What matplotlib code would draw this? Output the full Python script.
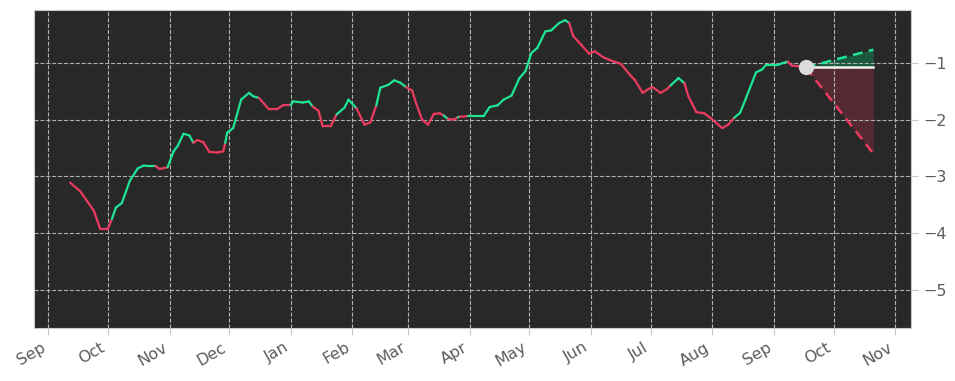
import numpy as np
import pandas as pd
import matplotlib
matplotlib.use("Agg")
import matplotlib.pyplot as plt
import matplotlib.dates as mdates

# historical series
dates = [
    "2022-09-12", "2022-09-17", "2022-09-24", "2022-09-27", "2022-10-01", "2022-10-03",
    "2022-10-05", "2022-10-08", "2022-10-12", "2022-10-16", "2022-10-19", "2022-10-22",
    "2022-10-25", "2022-10-27", "2022-10-31", "2022-11-03", "2022-11-05", "2022-11-08",
    "2022-11-11", "2022-11-13", "2022-11-15", "2022-11-18", "2022-11-21", "2022-11-25",
    "2022-11-28", "2022-11-29", "2022-11-30", "2022-12-03", "2022-12-07", "2022-12-11",
    "2022-12-13", "2022-12-16", "2022-12-21", "2022-12-25", "2022-12-28", "2023-01-01",
    "2023-01-02", "2023-01-07", "2023-01-10", "2023-01-12", "2023-01-15", "2023-01-17",
    "2023-01-21", "2023-01-24", "2023-01-28", "2023-01-30", "2023-02-03", "2023-02-07",
    "2023-02-10", "2023-02-13", "2023-02-15", "2023-02-19", "2023-02-22", "2023-02-25",
    "2023-02-28", "2023-03-03", "2023-03-05", "2023-03-08", "2023-03-11", "2023-03-14",
    "2023-03-17", "2023-03-19", "2023-03-21", "2023-03-24", "2023-03-26", "2023-03-27",
    "2023-03-31", "2023-04-08", "2023-04-11", "2023-04-15", "2023-04-18", "2023-04-22",
    "2023-04-26", "2023-04-29", "2023-05-02", "2023-05-05", "2023-05-09", "2023-05-12",
    "2023-05-16", "2023-05-19", "2023-05-21", "2023-05-23", "2023-05-27", "2023-05-31",
    "2023-06-03", "2023-06-07", "2023-06-11", "2023-06-16", "2023-06-21", "2023-06-23",
    "2023-06-27", "2023-06-30", "2023-07-02", "2023-07-06", "2023-07-09", "2023-07-11",
    "2023-07-15", "2023-07-18", "2023-07-20", "2023-07-24", "2023-07-28", "2023-07-31",
    "2023-08-03", "2023-08-06", "2023-08-09", "2023-08-12", "2023-08-15", "2023-08-18",
    "2023-08-21", "2023-08-23", "2023-08-26", "2023-08-28", "2023-08-31", "2023-09-03",
    "2023-09-05", "2023-09-08", "2023-09-10", "2023-09-13", "2023-09-17",
]
values = [
    -3.11, -3.26, -3.61, -3.92, -3.92, -3.75,
    -3.55, -3.47, -3.08, -2.86, -2.81, -2.82,
    -2.82, -2.87, -2.84, -2.56, -2.47, -2.25,
    -2.28, -2.41, -2.36, -2.40, -2.57, -2.58,
    -2.56, -2.41, -2.23, -2.15, -1.65, -1.53,
    -1.59, -1.62, -1.82, -1.82, -1.75, -1.75,
    -1.68, -1.70, -1.68, -1.77, -1.85, -2.12,
    -2.12, -1.91, -1.79, -1.65, -1.80, -2.09,
    -2.05, -1.75, -1.44, -1.39, -1.31, -1.35,
    -1.43, -1.49, -1.71, -2.00, -2.09, -1.90,
    -1.89, -1.93, -1.99, -2.00, -1.96, -1.95,
    -1.94, -1.94, -1.78, -1.75, -1.65, -1.58,
    -1.27, -1.15, -0.83, -0.74, -0.45, -0.43,
    -0.30, -0.25, -0.30, -0.53, -0.68, -0.84,
    -0.80, -0.90, -0.96, -1.02, -1.23, -1.30,
    -1.53, -1.46, -1.43, -1.53, -1.47, -1.40,
    -1.27, -1.36, -1.59, -1.87, -1.89, -1.97,
    -2.06, -2.15, -2.09, -1.97, -1.88, -1.62,
    -1.35, -1.17, -1.12, -1.04, -1.04, -1.04,
    -1.01, -0.98, -1.05, -1.06, -1.08,
]
# trend colour of the segment starting at each point (g = up, r = down)
trend = (
    "rrrrrg" "gggggg" "rrgggg" "grrrrr" "rggggg"
    "grrrrg" "gggrrr" "rgggrr" "rggggg" "rrrrrr"
    "rgrrgr" "gggggg" "gggggg" "ggrrrr" "rrrrrr"
    "rrrrrg" "grrrrr" "rrrggg" "gggggg" "grrr"
)

# forecast
fc_end_date = "2023-10-21"
fc_mid = -1.07
fc_high = -0.77
fc_low = -2.60

GREEN = "#1fe495"
RED = "#eb3b5f"

x = pd.to_datetime(dates)
xn = mdates.date2num(x)

fig = plt.figure(figsize=(9.55, 3.81), dpi=100)
ax = fig.add_axes([0.036, 0.139, 0.918, 0.835])
ax.set_facecolor("#282828")

for i in range(len(xn) - 1):
    c = GREEN if trend[i] == "g" else RED
    ax.plot(xn[i:i + 2], values[i:i + 2], color=c, lw=1.6, solid_capstyle="round")

x0 = xn[-1]
x1 = mdates.date2num(pd.Timestamp(fc_end_date))
y0 = values[-1]
ax.fill_between([x0, x1], [y0, fc_mid], [y0, fc_high], color="#00c878", alpha=0.3, lw=0)
ax.fill_between([x0, x1], [y0, fc_mid], [y0, fc_low], color="#c0304a", alpha=0.3, lw=0)
ax.plot([x0, x1], [y0, fc_high], color=GREEN, lw=1.8, ls=(0, (4, 2.5)))
ax.plot([x0, x1], [y0, fc_low], color=RED, lw=1.8, ls=(0, (4, 2.5)))
ax.plot([x0, x1], [fc_mid, fc_mid], color="#f2f2f2", lw=1.8)
ax.plot([x0], [y0], "o", color="#dcdcdc", ms=10, zorder=5)

ax.set_xlim(mdates.date2num(pd.Timestamp("2022-08-25")), mdates.date2num(pd.Timestamp("2023-11-09")))
ax.set_ylim(-5.67, -0.07)
ax.set_yticks([-5, -4, -3, -2, -1])
ax.yaxis.tick_right()
ax.xaxis.set_major_locator(mdates.MonthLocator())
ax.xaxis.set_major_formatter(mdates.DateFormatter("%b"))
for lab in ax.get_xticklabels():
    lab.set_rotation(30)
    lab.set_ha("right")

ax.grid(True, color="#b0b0b0", ls="--", lw=0.8)
for s in ax.spines.values():
    s.set_color("#c8c8c8")
ax.tick_params(colors="#c8c8c8", labelcolor="#5c5c5c", labelsize=11.5, length=5)

fig.savefig("out.png", dpi=100, facecolor="white")
